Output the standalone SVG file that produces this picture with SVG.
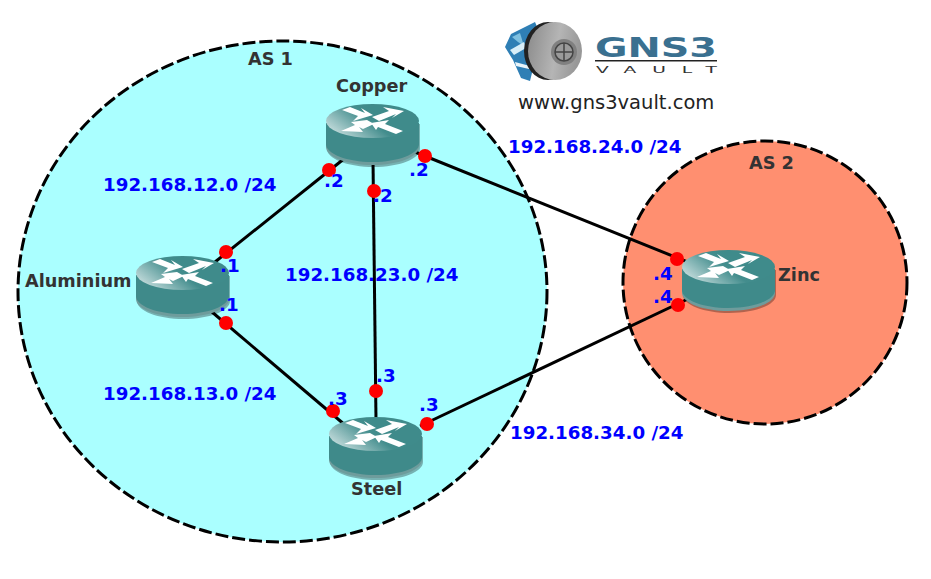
<svg xmlns="http://www.w3.org/2000/svg" width="931" height="579" viewBox="0 0 931 579">
<style>
text{font-family:"DejaVu Sans",sans-serif;font-weight:bold}
.as{stroke:#000;stroke-width:3;stroke-dasharray:13 4}
.net{fill:#0000ff;font-size:18.250px}
.ip{fill:#0000ff;font-size:18.250px}
.name{fill:#333;font-size:17.700px}
.link{stroke:#000;stroke-width:3;fill:none}
.dot{fill:#ff0000}
</style>
<defs>
<linearGradient id="top" x1="0" y1="0.7" x2="0.62" y2="0.4">
<stop offset="0" stop-color="#c4dcdc"/><stop offset="0.75" stop-color="#438d8d"/><stop offset="1" stop-color="#3f8b8b"/>
</linearGradient>
<linearGradient id="wheel" x1="0" y1="0" x2="1" y2="0.2">
<stop offset="0" stop-color="#8a8a8a"/><stop offset="0.6" stop-color="#b5b5b5"/><stop offset="1" stop-color="#989898"/>
</linearGradient>
<g id="router">
<path d="M0 19V44C0 54 21 62 46.500 62S93 54 93 44V19Z" fill="#000" opacity="0.3" transform="translate(1 1)"/>
<path d="M0 19V43C0 53 21 61 46.500 61S93 53 93 43V19Z" fill="#6e9c9c"/>
<path d="M0 19V40C0 50 21 58 46.500 58S93 50 93 40V19Z" fill="#3f8a8a"/>
<ellipse cx="46.500" cy="17" rx="46.500" ry="17" fill="url(#top)"/>
<g fill="#fff">
<polygon points="16,6 24,3 39,9 35,4 47,11 27,17 32,12"/>
<polygon points="78,7 57,3 63,7 46,13 53,17 70,10 66,14"/>
<polygon points="15,27 29,21 25,18 41,16 48,20 37,25 33,23 37,28"/>
<polygon points="77,27 70,30 52,23 50,26 45,19 63,16 59,20"/>
</g>
</g>
</defs>
<g id="as1"><ellipse class="as" cx="282.500" cy="291.500" rx="264.500" ry="250.500" fill="#aaffff"/><text class="name" x="248" y="65">AS 1</text></g>
<g id="as2"><ellipse class="as" cx="765" cy="282.500" rx="142" ry="141.500" fill="#ff8f70"/><text class="name" x="749" y="169">AS 2</text></g>
<g id="connectors">
<path class="link" d="M345 158L215 262"/>
<path class="link" d="M212 312L345 425"/>
<path class="link" d="M373 160L376 420"/>
<path class="link" d="M415 152L690 263"/>
<path class="link" d="M420 426L690 298"/>
</g>
<g id="copper"><use href="#router" x="326" y="104"/><text class="name" x="336" y="92">Copper</text></g>
<g id="aluminium"><use href="#router" x="136" y="256"/><text class="name" x="25" y="287">Aluminium</text></g>
<g id="steel"><use href="#router" x="329" y="417"/><text class="name" x="351" y="495">Steel</text></g>
<g id="zinc"><use href="#router" x="682" y="250"/><text class="name" x="778" y="281">Zinc</text></g>
<g id="dots">
<circle class="dot" cx="329" cy="170" r="7"/><circle class="dot" cx="226" cy="252" r="7"/>
<circle class="dot" cx="226" cy="323" r="7"/><circle class="dot" cx="333" cy="411" r="7"/>
<circle class="dot" cx="374" cy="191" r="7"/><circle class="dot" cx="376" cy="391" r="7"/>
<circle class="dot" cx="425" cy="156" r="7"/><circle class="dot" cx="677" cy="259" r="7"/>
<circle class="dot" cx="427" cy="424" r="7"/><circle class="dot" cx="678" cy="305" r="7"/>
</g>
<g id="labels">
<text class="net" x="103" y="191">192.168.12.0 /24</text>
<text class="net" x="285" y="281">192.168.23.0 /24</text>
<text class="net" x="103" y="400">192.168.13.0 /24</text>
<text class="net" x="508" y="153">192.168.24.0 /24</text>
<text class="net" x="510" y="439">192.168.34.0 /24</text>
<text class="ip" x="324" y="187">.2</text><text class="ip" x="373" y="202">.2</text><text class="ip" x="409" y="176">.2</text>
<text class="ip" x="220" y="272">.1</text><text class="ip" x="219" y="311">.1</text>
<text class="ip" x="328" y="405">.3</text><text class="ip" x="376" y="382">.3</text><text class="ip" x="419" y="411">.3</text>
<text class="ip" x="653" y="280">.4</text><text class="ip" x="653" y="303">.4</text>
</g>
<g id="logo">
<polygon points="505,47 511,34 535,22 541,36 530,81 521,78 513,60" fill="#2f7fb5"/>
<polygon points="512,37 520,33 524,46 518,42" fill="#7fc0e0"/>
<polygon points="510,50 524,42 526,48 514,55" fill="#d8eef8"/>
<polygon points="515,62 530,66 529,69 516,66" fill="#e8f4fa"/>
<ellipse cx="548" cy="51" rx="24" ry="29" fill="#222"/>
<ellipse cx="555" cy="51" rx="27" ry="29" fill="url(#wheel)"/>
<circle cx="564" cy="52" r="13" fill="#808080"/>
<circle cx="564" cy="52" r="9" fill="#9a9a9a" stroke="#444" stroke-width="1.500"/>
<path d="M564 43V61M555 52H573" stroke="#444" stroke-width="1.500"/>
<text x="595" y="57" font-size="27" fill="#3a7090" textLength="122" lengthAdjust="spacingAndGlyphs">GNS3</text>
<rect x="595" y="60" width="122" height="1.500" fill="#222"/>
<text transform="translate(596 73) scale(2.200 1)" font-size="8.500" fill="#333" style="font-weight:normal" textLength="55">VAULT</text>
<text x="518" y="109" font-size="19.500" fill="#222" style="font-weight:normal">www.gns3vault.com</text>
</g>
</svg>
